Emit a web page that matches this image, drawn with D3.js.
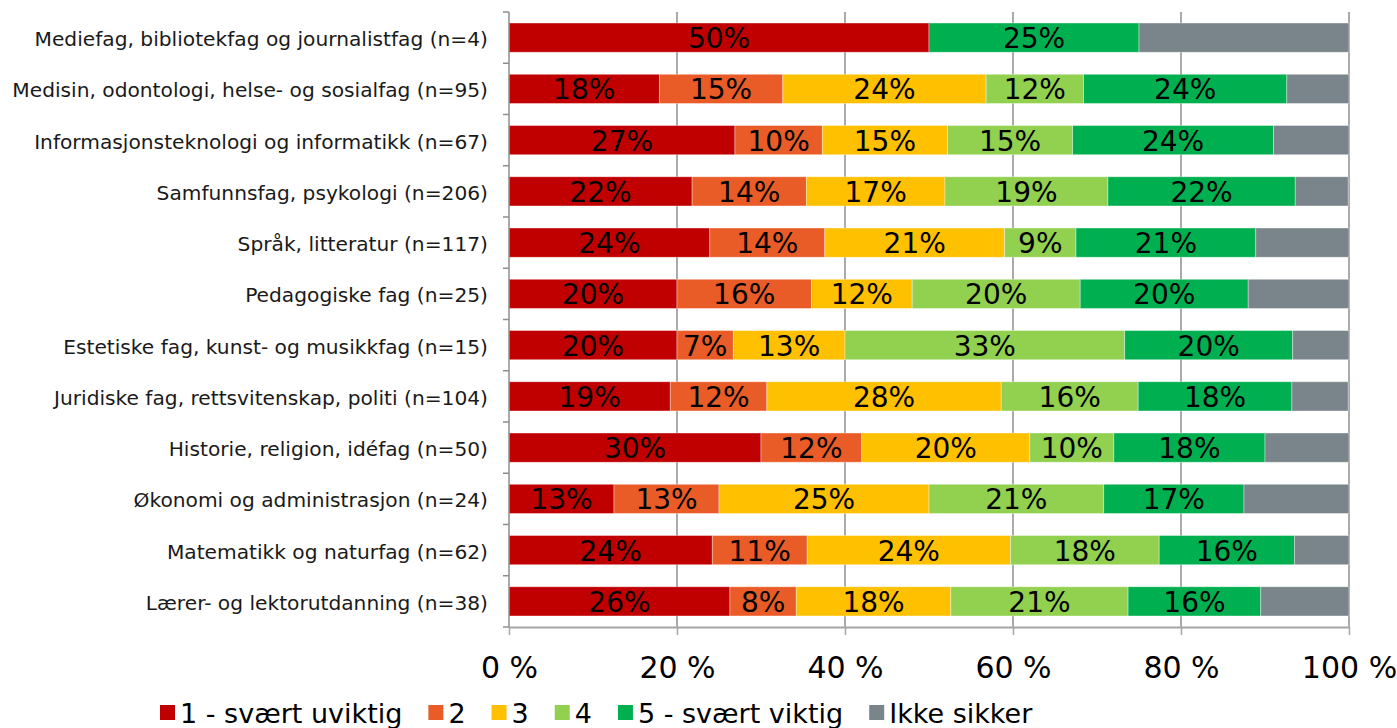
<!DOCTYPE html>
<html>
<head>
<meta charset="utf-8">
<script src="https://cdn.jsdelivr.net/npm/d3@7"></script>
<style>
  html, body { margin: 0; padding: 0; background: #fff; }
  svg { display: block; font-family: "DejaVu Sans", sans-serif; }
</style>
</head>
<body>
<svg id="chart" width="1397" height="728"></svg>
<script>
// Fagområder (topp til bunn)
const categories = [
  "Mediefag, bibliotekfag og journalistfag (n=4)",
  "Medisin, odontologi, helse- og sosialfag (n=95)",
  "Informasjonsteknologi og informatikk (n=67)",
  "Samfunnsfag, psykologi (n=206)",
  "Språk, litteratur (n=117)",
  "Pedagogiske fag (n=25)",
  "Estetiske fag, kunst- og musikkfag (n=15)",
  "Juridiske fag, rettsvitenskap, politi (n=104)",
  "Historie, religion, idéfag (n=50)",
  "Økonomi og administrasjon (n=24)",
  "Matematikk og naturfag (n=62)",
  "Lærer- og lektorutdanning (n=38)"
];

const seriesNames = ["1 - svært uviktig", "2", "3", "4", "5 - svært viktig", "Ikke sikker"];
const seriesColors = ["#C00000", "#EA5C27", "#FFC000", "#92D050", "#00B050", "#7A858B"];

// Andel svar i prosent per kategori
const s1 = [50, 17.9, 26.9, 21.8, 23.9, 20, 20, 19.2, 30, 12.5, 24.2, 26.3];
const s2 = [0, 14.7, 10.4, 13.6, 13.7, 16, 6.7, 11.5, 12, 12.5, 11.3, 7.9];
const s3 = [0, 24.2, 14.9, 16.5, 21.4, 12, 13.3, 27.9, 20, 25, 24.2, 18.4];
const s4 = [0, 11.6, 14.9, 19.4, 8.5, 20, 33.3, 16.3, 10, 20.8, 17.7, 21.1];
const s5 = [25, 24.2, 23.9, 22.3, 21.4, 20, 20, 18.3, 18, 16.7, 16.1, 15.8];
const s6 = [25, 7.4, 9.0, 6.3, 11.1, 12, 6.7, 6.7, 10, 12.5, 6.5, 10.5];

const tickValues = [0, 20, 40, 60, 80, 100];
const tickLabels = ["0 %", "20 %", "40 %", "60 %", "80 %", "100 %"];

const seriesValues = [s1, s2, s3, s4, s5, s6];
const labelledSeries = [0, 1, 2, 3, 4];

const rows = categories.map((c, i) => {
  const r = { category: c };
  seriesNames.forEach((s, k) => { r[s] = seriesValues[k][i]; });
  return r;
});

const svg = d3.select("#chart");
const plot = { left: 509, right: 1349, top: 12, bottom: 627 };

const x = d3.scaleLinear().domain([0, 100]).range([plot.left, plot.right]);
const y = d3.scaleBand().domain(categories).range([plot.top, plot.bottom])
  .paddingInner(0.43).paddingOuter(0.215);

// Vertikale rutenettlinjer
svg.append("g").selectAll("line")
  .data(tickValues.slice(1))
  .join("line")
  .attr("x1", d => x(d)).attr("x2", d => x(d))
  .attr("y1", plot.top).attr("y2", plot.bottom)
  .attr("stroke", "#8E8E8E").attr("stroke-width", 1.5);

// Stablede søyler
const stack = d3.stack().keys(seriesNames)(rows);

const layers = svg.append("g").selectAll("g")
  .data(stack)
  .join("g")
  .attr("fill", (d, i) => seriesColors[i]);

layers.selectAll("rect")
  .data(d => d.map(p => ({ p, cat: p.data.category })))
  .join("rect")
  .attr("x", d => x(d.p[0]))
  .attr("y", d => y(d.cat))
  .attr("width", d => Math.max(0, x(d.p[1]) - x(d.p[0])))
  .attr("height", y.bandwidth())
  .attr("stroke", "rgba(255,255,255,0.45)")
  .attr("stroke-width", 0.8);

// Verdietiketter
const labelG = svg.append("g")
  .attr("font-size", 28)
  .attr("fill", "#000")
  .attr("text-anchor", "middle");

labelledSeries.forEach(k => {
  labelG.selectAll(null)
    .data(stack[k].filter(p => p[1] - p[0] > 0))
    .join("text")
    .attr("x", p => (x(p[0]) + x(p[1])) / 2)
    .attr("y", p => y(p.data.category) + y.bandwidth() / 2 + 10.5)
    .text(p => Math.round(p[1] - p[0]) + "%");
});

// Kategoriakse
svg.append("line")
  .attr("x1", plot.left).attr("x2", plot.left)
  .attr("y1", plot.top).attr("y2", plot.bottom)
  .attr("stroke", "#8E8E8E").attr("stroke-width", 1.5);

const boundaries = d3.range(categories.length + 1).map(i => plot.top + i * y.step());
svg.append("g").selectAll("line")
  .data(boundaries)
  .join("line")
  .attr("x1", plot.left - 6).attr("x2", plot.left)
  .attr("y1", d => d).attr("y2", d => d)
  .attr("stroke", "#8E8E8E").attr("stroke-width", 1.5);

svg.append("g")
  .attr("font-size", 20.2)
  .attr("fill", "#1a1a1a")
  .attr("text-anchor", "end")
  .selectAll("text")
  .data(categories)
  .join("text")
  .attr("x", 488)
  .attr("y", d => y(d) + y.bandwidth() / 2 + 8.5)
  .text(d => d);

// Verdiakse
const xAxis = d3.axisBottom(x)
  .tickValues(tickValues)
  .tickFormat((d, i) => tickLabels[i])
  .tickSize(8)
  .tickSizeOuter(0)
  .tickPadding(22);

const ax = svg.append("g")
  .attr("transform", `translate(0,${plot.bottom})`)
  .call(xAxis);
ax.select(".domain").attr("stroke", "#A6A6A6").attr("stroke-width", 2);
ax.selectAll(".tick line").attr("stroke", "#A6A6A6").attr("stroke-width", 1.5);
ax.selectAll(".tick text")
  .attr("font-family", "DejaVu Sans, sans-serif")
  .attr("font-size", 30)
  .attr("fill", "#000");

// Tegnforklaring
const legend = svg.append("g").attr("font-size", 27).attr("fill", "#000");
let lx = 160;
seriesNames.forEach((s, i) => {
  legend.append("rect")
    .attr("x", lx).attr("y", 705)
    .attr("width", 15).attr("height", 15)
    .attr("fill", seriesColors[i]);
  const t = legend.append("text")
    .attr("x", lx + 20).attr("y", 723)
    .text(s);
  lx += 20 + t.node().getComputedTextLength() + 26;
});
</script>
</body>
</html>
